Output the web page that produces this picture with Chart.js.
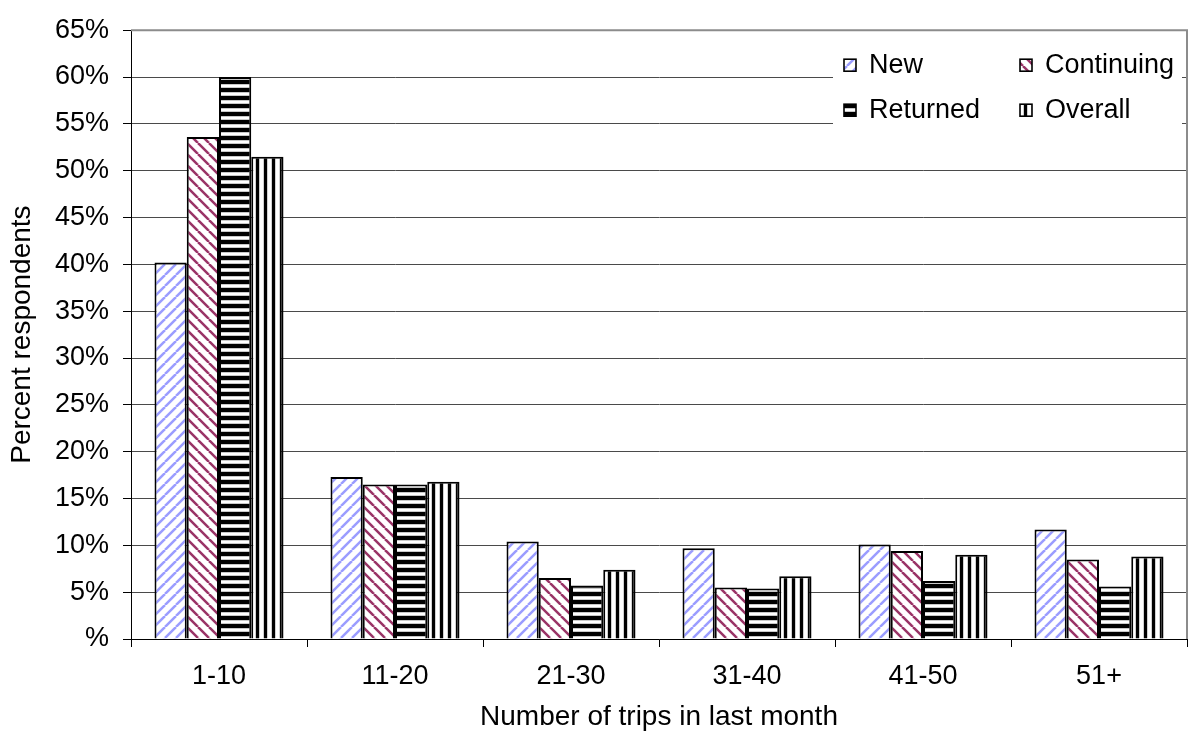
<!DOCTYPE html>
<html>
<head>
<meta charset="utf-8">
<script src="https://cdn.jsdelivr.net/npm/chart.js@4.4.1/dist/chart.umd.min.js"></script>
<style>
  html, body { margin: 0; padding: 0; background: #fff; }
  #wrap { width: 1189px; height: 733px; }
</style>
</head>
<body>
<div id="wrap"><canvas id="c" width="1189" height="733"></canvas></div>
<script>
const categories = ['1-10', '11-20', '21-30', '31-40', '41-50', '51+'];
const newValues = [40.2, 17.3, 10.4, 9.7, 10.1, 11.7];
const continuingValues = [53.6, 16.5, 6.5, 5.5, 9.4, 8.5];
const returnedValues = [60.0, 16.5, 5.7, 5.4, 6.2, 5.6];
const overallValues = [51.5, 16.8, 7.4, 6.7, 9.0, 8.8];
const seriesLabels = ['New', 'Continuing', 'Returned', 'Overall'];
const yTickLabels = ['%', '5%', '10%', '15%', '20%', '25%', '30%', '35%', '40%', '45%', '50%', '55%', '60%', '65%'];

const FONT = 'Arial, "Liberation Sans", Helvetica, sans-serif';

function makeTile(size, draw) {
  const t = document.createElement('canvas');
  t.width = size; t.height = size;
  const g = t.getContext('2d');
  g.fillStyle = '#fff';
  g.fillRect(0, 0, size, size);
  draw(g, size);
  return document.getElementById('c').getContext('2d').createPattern(t, 'repeat');
}
const patNew = makeTile(11, (g, s) => {
  g.strokeStyle = '#9a9cff'; g.lineWidth = 2.5;
  for (const k of [-s, 0, s]) { g.beginPath(); g.moveTo(k, s); g.lineTo(k + s, 0); g.stroke(); }
});
const patCont = makeTile(11, (g, s) => {
  g.strokeStyle = '#993366'; g.lineWidth = 2.5;
  for (const k of [-s, 0, s]) { g.beginPath(); g.moveTo(k, 0); g.lineTo(k + s, s); g.stroke(); }
});
const patRet = makeTile(8, g => {
  g.fillStyle = '#000'; g.fillRect(0, 0, 8, 4);
  g.fillStyle = '#c8c8c8'; g.fillRect(0, 4, 8, 1); g.fillRect(0, 7, 8, 1);
});
const patOver = makeTile(8, g => {
  g.fillStyle = '#000'; g.fillRect(0, 0, 3, 8);
  g.fillStyle = '#d0d0d0'; g.fillRect(3, 0, 1, 8); g.fillRect(7, 0, 1, 8);
});

const boxLegend = {
  id: 'boxLegend',
  afterDraw(chart) {
    const ctx = chart.ctx;
    const ca = chart.chartArea;
    const bx = ca.right - 354, by = ca.top + 3;
    ctx.save();
    ctx.fillStyle = '#fff';
    ctx.fillRect(bx, by, 349, 102);
    const cols = [bx + 11, bx + 187];
    const rows = [by + 32, by + 77];
    ctx.font = '27px ' + FONT;
    ctx.textBaseline = 'middle';
    ctx.textAlign = 'left';
    chart.data.datasets.forEach((ds, i) => {
      const x = cols[i % 2], y = rows[Math.floor(i / 2)];
      ctx.fillStyle = ds.backgroundColor;
      ctx.fillRect(x, y - 6, 12, 12);
      ctx.strokeStyle = '#000';
      ctx.lineWidth = 1.6;
      ctx.strokeRect(x, y - 6, 12, 12);
      ctx.fillStyle = '#000';
      ctx.fillText(ds.label, x + 25, y);
    });
    ctx.restore();
  }
};

const plotBorder = {
  id: 'plotBorder',
  beforeDatasetsDraw(chart) {
    const ctx = chart.ctx, ca = chart.chartArea;
    ctx.save();
    ctx.strokeStyle = '#8c8c8c';
    ctx.lineWidth = 2;
    ctx.beginPath();
    ctx.moveTo(ca.left, ca.top);
    ctx.lineTo(ca.right, ca.top);
    ctx.lineTo(ca.right, ca.bottom);
    ctx.stroke();
    ctx.restore();
  }
};

const common = { borderColor: '#000', borderWidth: 2, categoryPercentage: 0.733, barPercentage: 1.0 };

new Chart(document.getElementById('c'), {
  type: 'bar',
  data: {
    labels: categories,
    datasets: [
      Object.assign({ label: seriesLabels[0], data: newValues, backgroundColor: patNew }, common),
      Object.assign({ label: seriesLabels[1], data: continuingValues, backgroundColor: patCont }, common),
      Object.assign({ label: seriesLabels[2], data: returnedValues, backgroundColor: patRet }, common),
      Object.assign({ label: seriesLabels[3], data: overallValues, backgroundColor: patOver }, common)
    ]
  },
  options: {
    responsive: false,
    animation: false,
    devicePixelRatio: 1,
    layout: { padding: { top: 22, right: 2, left: 0, bottom: 0 } },
    plugins: { legend: { display: false }, tooltip: { enabled: false } },
    scales: {
      x: {
        afterFit(s) { s.height = 94; },
        grid: { display: true, drawOnChartArea: false, drawTicks: true, tickLength: 8, tickColor: '#000', offset: true },
        border: { display: true, color: '#000', width: 1 },
        ticks: { color: '#000', font: { family: FONT, size: 27 }, padding: 13, maxRotation: 0 },
        title: { display: true, text: 'Number of trips in last month', color: '#000', font: { family: FONT, size: 28 }, padding: { top: 0, bottom: -1 } }
      },
      y: {
        min: 0, max: 65,
        afterFit(s) { s.width = 131; },
        grid: {
          color: ctx => (ctx.index === 13 ? '#8c8c8c' : '#4a4a4a'),
          lineWidth: 1,
          drawTicks: true, tickLength: 8, tickColor: '#000'
        },
        border: { display: true, color: '#000', width: 1 },
        ticks: {
          stepSize: 5, color: '#000', font: { family: FONT, size: 27 }, padding: 14,
          callback: (v, i) => yTickLabels[i]
        },
        title: { display: true, text: 'Percent respondents', color: '#000', font: { family: FONT, size: 28 }, padding: { top: 5, bottom: 0 } }
      }
    }
  },
  plugins: [plotBorder, boxLegend]
});
</script>
</body>
</html>
